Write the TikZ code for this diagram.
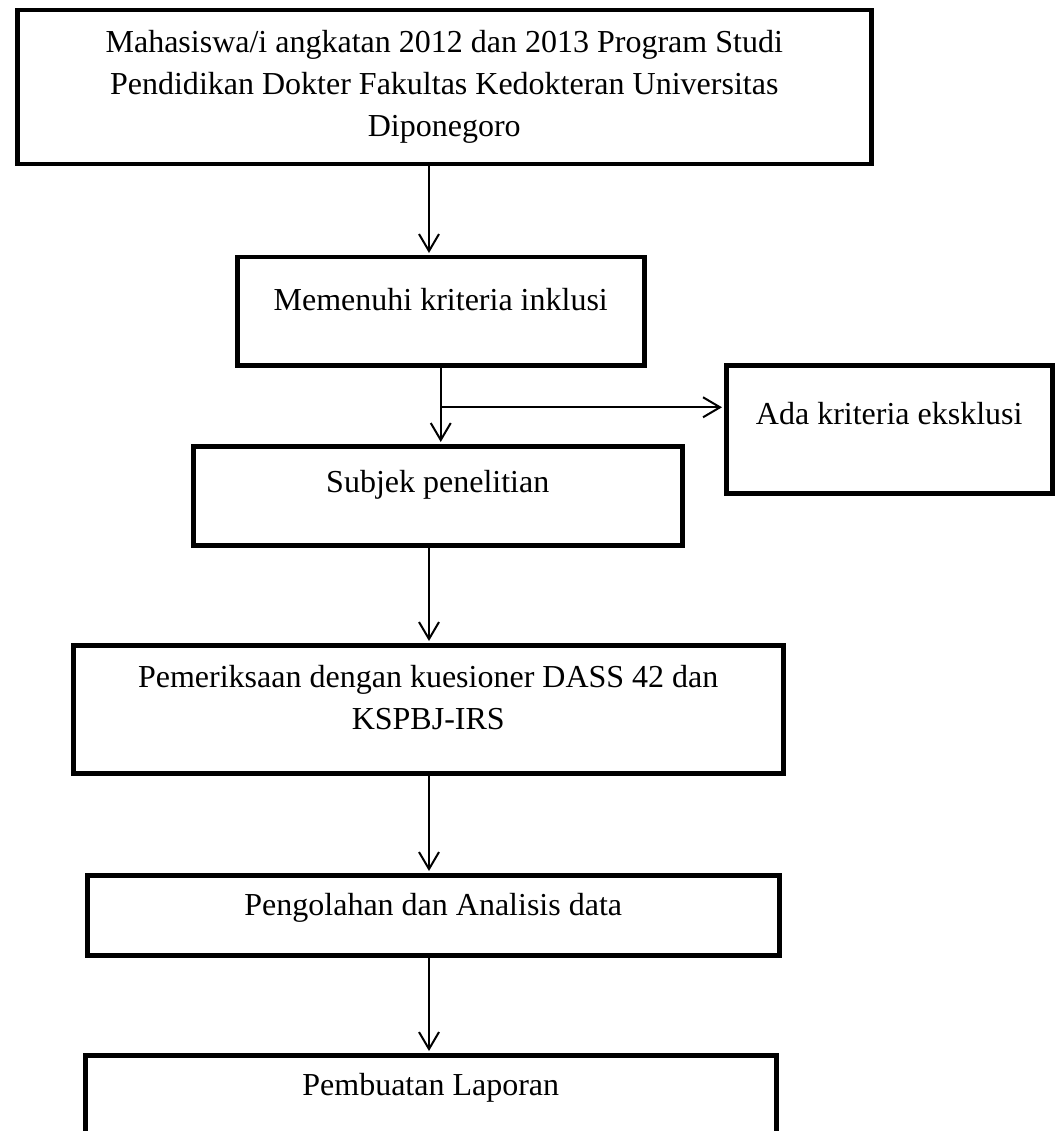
\documentclass[tikz,border=0pt]{standalone}
\usepackage{fontspec}
\setmainfont{Liberation Serif}
\usetikzlibrary{arrows.meta,calc}

\begin{document}
\begin{tikzpicture}[x=1pt,y=-1pt,
  kotak/.style={draw,line width=4.5pt,inner sep=0pt,anchor=north west,font=\fontsize{32}{42}\selectfont},
  alur/.style={-{Straight Barb[length=17pt,width=20pt]},line width=2pt,shorten >=2pt}]
  \clip (0,0) rectangle (1056,1131);
  \coordinate (poros) at (429,0);
  \node[kotak,minimum width=854pt,text height=42pt,text depth=112pt] (populasi) at (15,8) {\begin{tabular}[t]{@{}c@{}}Mahasiswa/i angkatan 2012 dan 2013 Program Studi\\Pendidikan Dokter Fakultas Kedokteran Universitas\\Diponegoro\end{tabular}};
  \node[kotak,minimum width=407pt,text height=53pt,text depth=55pt] (inklusi) at (235,255) {Memenuhi kriteria inklusi};
  \node[kotak,minimum width=326pt,text height=59pt,text depth=69pt] (eksklusi) at (724,363) {Ada kriteria eksklusi};
  \node[kotak,minimum width=489pt,text height=46pt,text depth=53pt] (subjek) at (191,444) {Subjek penelitian};
  \node[kotak,minimum width=710pt,text height=42pt,text depth=86pt] (periksa) at (71,643) {\begin{tabular}[t]{@{}c@{}}Pemeriksaan dengan kuesioner DASS 42 dan\\KSPBJ-IRS\end{tabular}};
  \node[kotak,minimum width=692pt,text height=40pt,text depth=40pt] (olah) at (85,873) {Pengolahan dan Analisis data};
  \node[kotak,minimum width=691pt,text height=40pt,text depth=150pt] (laporan) at (83,1053) {Pembuatan Laporan};
  \draw[alur] (populasi.south -| poros) -- (inklusi.north -| poros);
  \draw[alur] (inklusi.south) -- (inklusi.south |- subjek.north);
  \coordinate (cabang) at ($(inklusi.south)!.52!(inklusi.south |- subjek.north)$);
  \draw[alur] (cabang) -- (cabang -| eksklusi.west);
  \foreach \a/\b in {subjek/periksa,periksa/olah,olah/laporan}
    \draw[alur] (\a.south -| poros) -- (\b.north -| poros);
\end{tikzpicture}
\end{document}
